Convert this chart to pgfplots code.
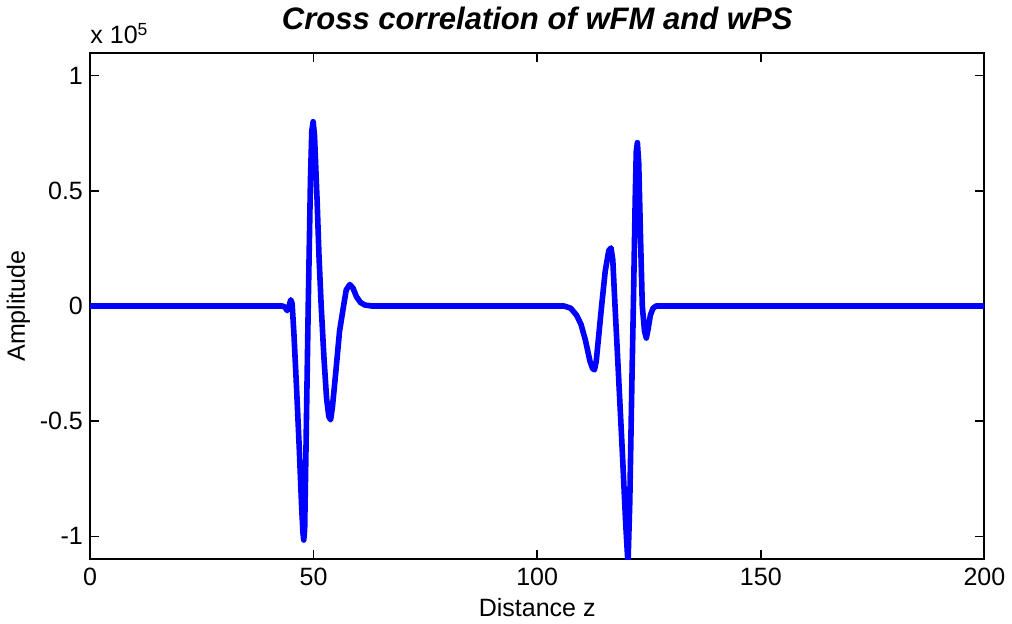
\documentclass[border=0pt]{standalone}
\usepackage{pgfplots}
\pgfplotsset{compat=1.18}
\usepackage{fontspec}
\setmainfont{Liberation Sans}
\definecolor{mblue}{RGB}{0,0,255}
\begin{document}
\begin{tikzpicture}
\begin{axis}[
  scale only axis,
  width=446.5pt, height=253pt,
  xmin=0, xmax=200, ymin=-1.1, ymax=1.1,
  xtick={0,50,100,150,200},
  ytick={-1,-0.5,0,0.5,1},
  yticklabels={-1,-0.5,0,0.5,1},
  xticklabels={0,50,100,150,200},
  tick align=inside,
  major tick length=4.5pt,
  axis line style={line width=1pt},
  every tick/.style={line width=0.8pt,black},
  ticklabel style={font=\fontsize{12.5}{14}\selectfont},
  xticklabel style={yshift=-1pt},
  xlabel={Distance z},
  ylabel={Amplitude},
  label style={font=\fontsize{12.5}{14}\selectfont},
  xlabel style={yshift=1pt},
  ylabel style={yshift=-2pt},
  title={\bfseries\itshape Cross correlation of wFM and wPS},
  title style={font=\fontsize{15.5}{17}\selectfont, yshift=2pt},
  clip=true,
]
\addplot[mblue, line width=2.8pt, line join=round] coordinates {
(0,0) (43,0) (43.6,-0.005) (44.1,-0.02) (44.5,0.0) (44.9,0.027) (45.2,0.01)
(45.6,-0.12) (46.2,-0.36) (46.8,-0.62) (47.3,-0.86) (47.6,-0.98) (47.8,-1.016)
(48.0,-0.97) (48.3,-0.62) (48.8,0.0) (49.3,0.55) (49.6,0.76) (49.9,0.80)
(50.2,0.74) (50.8,0.45) (51.2,0.22) (51.7,0.0) (52.3,-0.22) (52.9,-0.40)
(53.4,-0.48) (53.8,-0.494) (54.2,-0.44) (55,-0.28) (55.8,-0.11) (56.7,0.0)
(57.3,0.07) (58.1,0.093) (58.8,0.078) (59.6,0.04) (60.5,0.015) (61.5,0.004)
(63,0) (106,0) (107.5,-0.01) (108.8,-0.04) (109.8,-0.08) (110.8,-0.15)
(111.8,-0.24) (112.4,-0.272) (112.8,-0.277) (113.2,-0.24) (113.8,-0.12)
(114.4,0) (115.2,0.15) (116,0.24) (116.5,0.252) (116.9,0.2) (117.4,0.0)
(118,-0.23) (119,-0.62) (119.8,-0.95) (120.3,-1.12) (120.7,-0.85) (121.2,-0.3)
(121.5,0) (121.9,0.45) (122.15,0.67) (122.4,0.709) (122.7,0.62) (123.1,0.3)
(123.5,0.0) (124.0,-0.11) (124.4,-0.139) (124.8,-0.1) (125.3,-0.04)
(125.9,-0.01) (126.6,0) (200,0)
};
\end{axis}
\node[anchor=south west, inner sep=0pt, font=\fontsize{12.5}{14}\selectfont] at (0pt,257pt) {x 10\textsuperscript{5}};
\end{tikzpicture}
\end{document}
